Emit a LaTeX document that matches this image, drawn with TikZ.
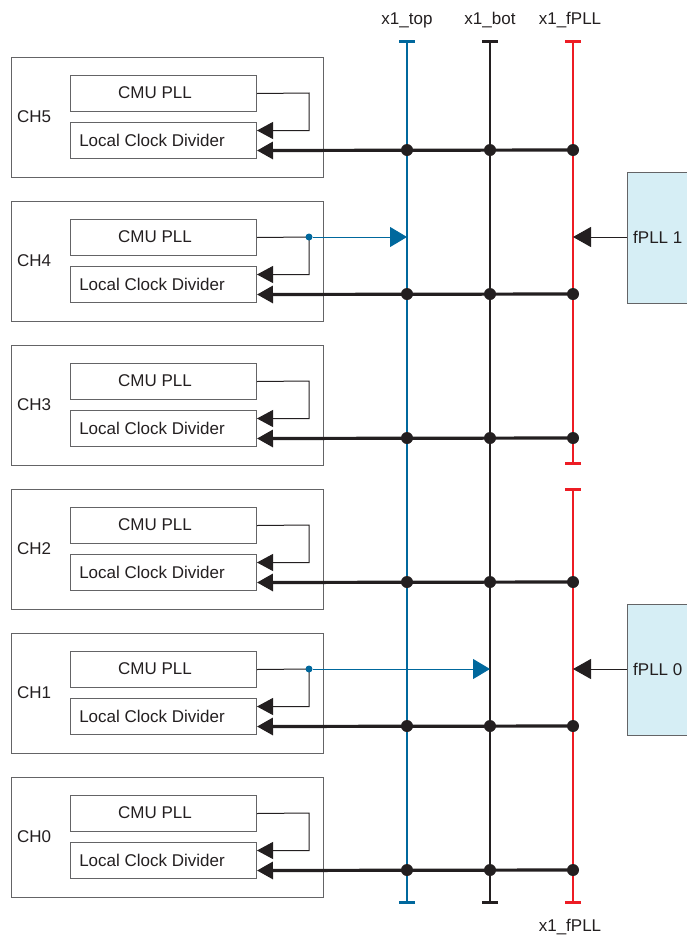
\documentclass[tikz,border=0pt]{standalone}
\usepackage{fontspec}
\setmainfont{Liberation Sans}
\usetikzlibrary{arrows.meta}
\definecolor{bblue}{RGB}{0,104,157}
\definecolor{rred}{RGB}{237,28,36}
\definecolor{kblk}{RGB}{35,31,32}
\definecolor{gbord}{RGB}{100,100,102}
\definecolor{pllfill}{RGB}{214,238,245}
\tikzset{
  chbox/.style={draw=gbord, line width=1pt, minimum width=312pt, minimum height=120pt, inner sep=0pt, anchor=north west},
  innerbox/.style={draw=gbord, line width=1pt, minimum width=186pt, minimum height=36pt, inner sep=0pt, anchor=north west},
  pllbox/.style={draw=gbord, fill=pllfill, line width=1pt, minimum width=80pt, minimum height=131pt, inner sep=0pt, anchor=north west},
  txt/.style={inner sep=0pt, font=\fontsize{17}{20}\selectfont, text=kblk},
  thinline/.style={draw=kblk, line width=1pt},
  fbarrow/.style={-{Triangle[length=16pt,width=17pt]}},
  thickline/.style={draw=kblk, line width=3.2pt, -{Triangle[length=16pt,width=17pt]}},
  busline/.style={line width=2.6pt, {Bar[width=16pt]}-{Bar[width=16pt]}},
  jdot/.style={circle, fill=kblk, minimum size=12pt, inner sep=0pt},
  bdot/.style={circle, fill=bblue, minimum size=7pt, inner sep=0pt},
  bluearrow/.style={draw=bblue, line width=1pt, -{Triangle[length=17pt,width=20pt]}},
  pllarrow/.style={draw=kblk, line width=1pt, -{Triangle[length=18pt,width=20pt]}},
}
\begin{document}
\begin{tikzpicture}[x=1pt,y=-1pt]
\useasboundingbox (0,0) rectangle (687,940);

% buses
\coordinate (btop) at (407,40);
\coordinate (bbot) at (407,904);
\coordinate (ktop) at (490,40);
\coordinate (kbot) at (490,904);
\coordinate (rtop) at (573,40);
\coordinate (rmida) at (573,465);
\coordinate (rmidb) at (573,488);
\coordinate (rbot) at (573,904);
\draw[busline, draw=bblue] (btop) -- (bbot);
\draw[busline, draw=kblk] (ktop) -- (kbot);
\draw[busline, draw=rred] (rtop) -- (rmida);
\draw[busline, draw=rred] (rmidb) -- (rbot);

\node[txt] (lbltop) at (407,20) {x1\_top};
\node[txt] (lblbot) at (490,20) {x1\_bot};
\node[txt] (lblfpll) at (570,20) {x1\_fPLL};
\node[txt] (lblfpllb) at (570,927) {x1\_fPLL};

% channels
\foreach \i/\k in {5/0,4/1,3/2,2/3,1/4,0/5} {
  \pgfmathsetmacro\yo{57+144*\k}
  \node[chbox] (ch\i) at (11,\yo) {};
  \node[txt, anchor=west] (chl\i) at (17,\yo+60) {CH\i};
  \node[innerbox] (cmu\i) at (70,\yo+18) {};
  \node[txt] (cmut\i) at (155,\yo+36) {CMU PLL};
  \node[innerbox] (lcd\i) at (70,\yo+65) {};
  \node[txt] (lcdt\i) at (152,\yo+83) {Local Clock Divider};
  \coordinate (fb\i) at (309,\yo+36);
  \draw[thinline, fbarrow] (cmu\i.east) -- (fb\i) |- ([yshift=10pt]lcd\i.east);
  \coordinate (hr\i) at (573,\yo+93);
  \draw[thickline] (hr\i) -- ([yshift=-10pt]lcd\i.east);
  \node[jdot] (db\i) at (407,\yo+93) {};
  \node[jdot] (dk\i) at (490,\yo+93) {};
  \node[jdot] (dr\i) at (hr\i) {};
}

% CMU PLL outputs to buses
\node[bdot] (bd4) at (fb4) {};
\draw[bluearrow] (bd4) -- (btop |- bd4);
\node[bdot] (bd1) at (fb1) {};
\draw[bluearrow] (bd1) -- (ktop |- bd1);

% fPLL blocks
\node[pllbox] (fpll1) at (627,172) {};
\node[txt, anchor=west] (fpll1t) at (633,237) {fPLL 1};
\draw[pllarrow] (fpll1.west |- fpll1t) -- (rtop |- fpll1t);
\node[pllbox] (fpll0) at (627,604) {};
\node[txt, anchor=west] (fpll0t) at (633,669) {fPLL 0};
\draw[pllarrow] (fpll0.west |- fpll0t) -- (rtop |- fpll0t);
\end{tikzpicture}
\end{document}
